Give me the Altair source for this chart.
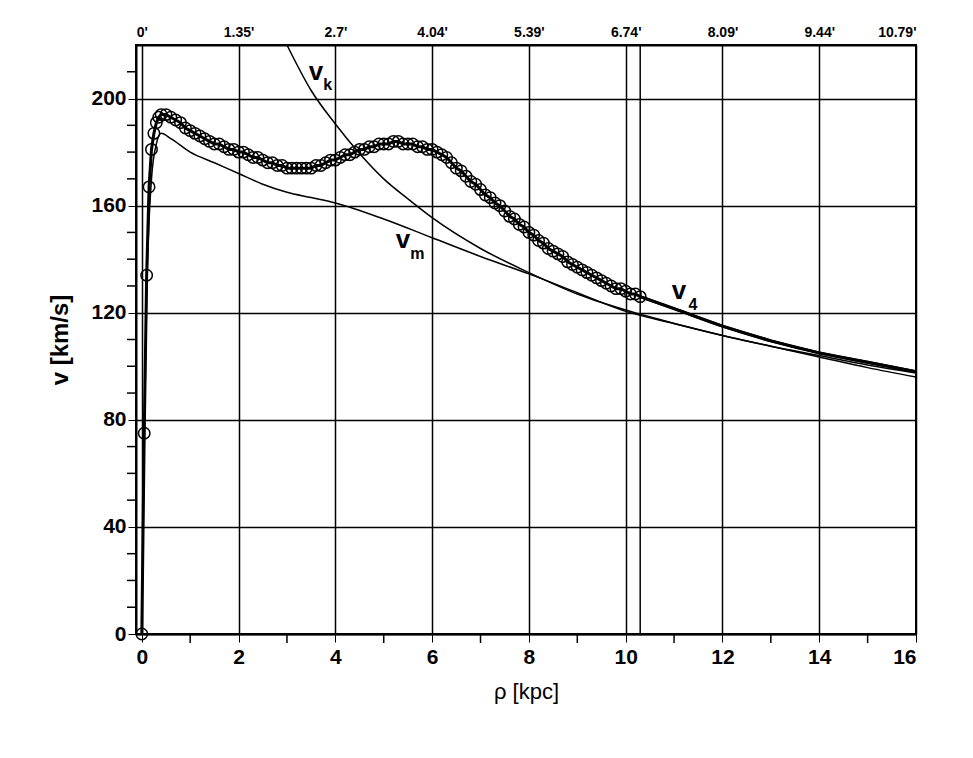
import json
import altair as alt
import numpy as np
import pandas as pd

# observed rotation points (circles)
obs_rho_inner = [0.0, 0.05, 0.1, 0.15, 0.2, 0.25, 0.3, 0.35]
obs_v_inner = [0, 75, 134, 167, 181, 187, 191, 193]
obs_rho_outer = list(np.round(np.arange(0.4, 10.31, 0.1), 1))
obs_v_outer = [194, 194, 193, 192, 191, 189, 188, 187, 186, 185, 184, 183, 183, 182, 181, 181,
               180, 180, 179, 178, 178, 177, 176, 176, 175, 175, 174, 174, 174, 174, 174, 174,
               175, 175, 176, 177, 177, 178, 179, 179, 180, 181, 181, 182, 182, 183, 183, 183,
               184, 184, 183, 183, 183, 182, 182, 181, 181, 180, 179, 178, 176, 174, 173, 171,
               169, 168, 166, 164, 163, 161, 160, 158, 156, 155, 153, 152, 150, 149, 147, 146,
               144, 143, 142, 141, 139, 138, 137, 136, 135, 134, 133, 132, 131, 130, 129, 129,
               128, 127, 127, 126]

# v4 model curve beyond the data
v4_rho_tail = [10.3, 11, 12, 13, 14, 15, 16]
v4_v_tail = [126, 121.5, 115, 109.5, 105, 101.5, 98]

# v_m curve
vm_rho = [0, 0.05, 0.1, 0.2, 0.3, 0.4, 0.6, 1, 1.5, 2, 2.5, 3, 3.5, 4, 5, 6, 7, 8, 9, 10, 11, 12, 13, 14, 15, 16]
vm_v = [0, 70, 125, 170, 183, 187, 185, 180, 176, 172, 168, 165, 163, 161, 155, 148, 141, 134.5, 127.5, 120.5, 116, 111.5, 107.5, 103.5, 99.5, 96]

# v_k curve
vk_rho = [3.0, 3.5, 4, 4.5, 5, 5.5, 6, 7, 8, 9, 10, 11, 12, 13, 14, 15, 16]
vk_v = [220, 203, 190.5, 179.5, 170, 162.5, 155.5, 144, 135, 127, 121, 116, 111.5, 107.5, 104, 100.5, 97.5]

top_labels = ["0'", "1.35'", "2.7'", "4.04'", "5.39'", "6.74'", "8.09'", "9.44'", "10.79'"]

obs = pd.DataFrame({"rho": obs_rho_inner + obs_rho_outer, "v": obs_v_inner + obs_v_outer})
v4 = pd.DataFrame({"rho": obs_rho_inner + obs_rho_outer + v4_rho_tail[1:],
                   "v": obs_v_inner + obs_v_outer + v4_v_tail[1:]})
vm = pd.DataFrame({"rho": vm_rho, "v": vm_v})
vk = pd.DataFrame({"rho": vk_rho, "v": vk_v})

xs = alt.Scale(domain=[-0.12, 16], nice=False, zero=False)
ys = alt.Scale(domain=[0, 220], nice=False)

bottom_axis = alt.Axis(values=list(range(0, 17, 2)), title="ρ [kpc]", grid=True,
                       gridColor="black", gridWidth=1.5, gridOpacity=1,
                       labelFontSize=21, labelFontWeight="bold", titleFontSize=22,
                       titleFontWeight="normal", titlePadding=14, tickColor="black",
                       tickSize=8, labelPadding=4, domainColor="black", domainWidth=2)
left_axis = alt.Axis(values=list(range(0, 221, 40)), title="v [km/s]", grid=True,
                     gridColor="black", gridWidth=1.5, gridOpacity=1,
                     labelFontSize=21, labelFontWeight="bold", titleFontSize=24,
                     titleFontWeight="bold", titlePadding=18, tickColor="black",
                     tickSize=8, domainColor="black", domainWidth=2)

top_expr = json.dumps(top_labels) + "[round(datum.value / 2)]"
top_axis = alt.Axis(orient="top", values=list(range(0, 17, 2)), labelExpr=top_expr,
                    title=None, grid=False, labelFontSize=14, labelFontWeight="bold",
                    tickSize=0, domainColor="black", domainWidth=2, labelPadding=6)


def px():
    return alt.X("rho:Q", scale=xs, axis=None)


def py():
    return alt.Y("v:Q", scale=ys, axis=left_axis)


base_line = alt.Chart(v4).mark_line(color="black", strokeWidth=3).encode(
    x=alt.X("rho:Q", scale=xs, axis=bottom_axis), y=py())

vm_line = alt.Chart(vm).mark_line(color="black", strokeWidth=1.5, interpolate="monotone").encode(
    x=px(), y=py())
vk_line = alt.Chart(vk).mark_line(color="black", strokeWidth=1.5, interpolate="monotone").encode(
    x=px(), y=py())
v4_tail = alt.Chart(pd.DataFrame({"rho": v4_rho_tail, "v": v4_v_tail})).mark_line(
    color="black", strokeWidth=3, interpolate="monotone").encode(x=px(), y=py())

points = alt.Chart(obs).mark_point(shape="circle", size=130, filled=False, color="black",
                                   strokeWidth=1.5, opacity=1).encode(x=px(), y=py())

data_end = alt.Chart(pd.DataFrame({"rho": [obs_rho_outer[-1]]})).mark_rule(
    color="black", strokeWidth=1.5).encode(x=px())

minor_y = alt.Chart(pd.DataFrame({"v": [m for m in range(10, 220, 10) if m % 40]})).mark_rule(
    color="black", strokeWidth=1.5).encode(
    x=alt.value(-9), x2=alt.value(-1), y=py())
minor_x = alt.Chart(pd.DataFrame({"rho": list(range(1, 16, 2))})).mark_rule(
    color="black", strokeWidth=1.5).encode(
    x=px(), y=alt.value(590), y2=alt.value(598))

top = alt.Chart(pd.DataFrame({"rho": [0]})).mark_point(opacity=0).encode(
    x=alt.X("rho:Q", scale=xs, axis=top_axis))

labels = pd.DataFrame({
    "rho": [3.45, 3.75, 5.25, 5.55, 10.95, 11.3],
    "v": [210, 205, 147, 142, 128, 123],
    "t": ["v", "k", "v", "m", "v", "4"],
    "s": [26, 16, 26, 16, 26, 16],
})
text = alt.Chart(labels).mark_text(fontWeight="bold", color="black", align="left").encode(
    x=px(), y=py(), text="t:N",
    size=alt.Size("s:Q", scale=None, legend=None))

chart = alt.layer(
    base_line, vm_line, vk_line, v4_tail, points, data_end, minor_y, minor_x, text, top
).resolve_axis(x="independent").properties(
    width=780, height=589,
    autosize=alt.AutoSizeParams(type="none"),
    padding={"left": 128, "top": 37, "right": 40, "bottom": 100},
).configure_view(stroke="black", strokeWidth=2).configure_axis(
    labelColor="black", titleColor="black", labelFont="Liberation Sans", titleFont="Liberation Sans"
).configure_text(font="Liberation Sans")

chart.save("out.html", embed_options={"renderer": "svg", "actions": False})
